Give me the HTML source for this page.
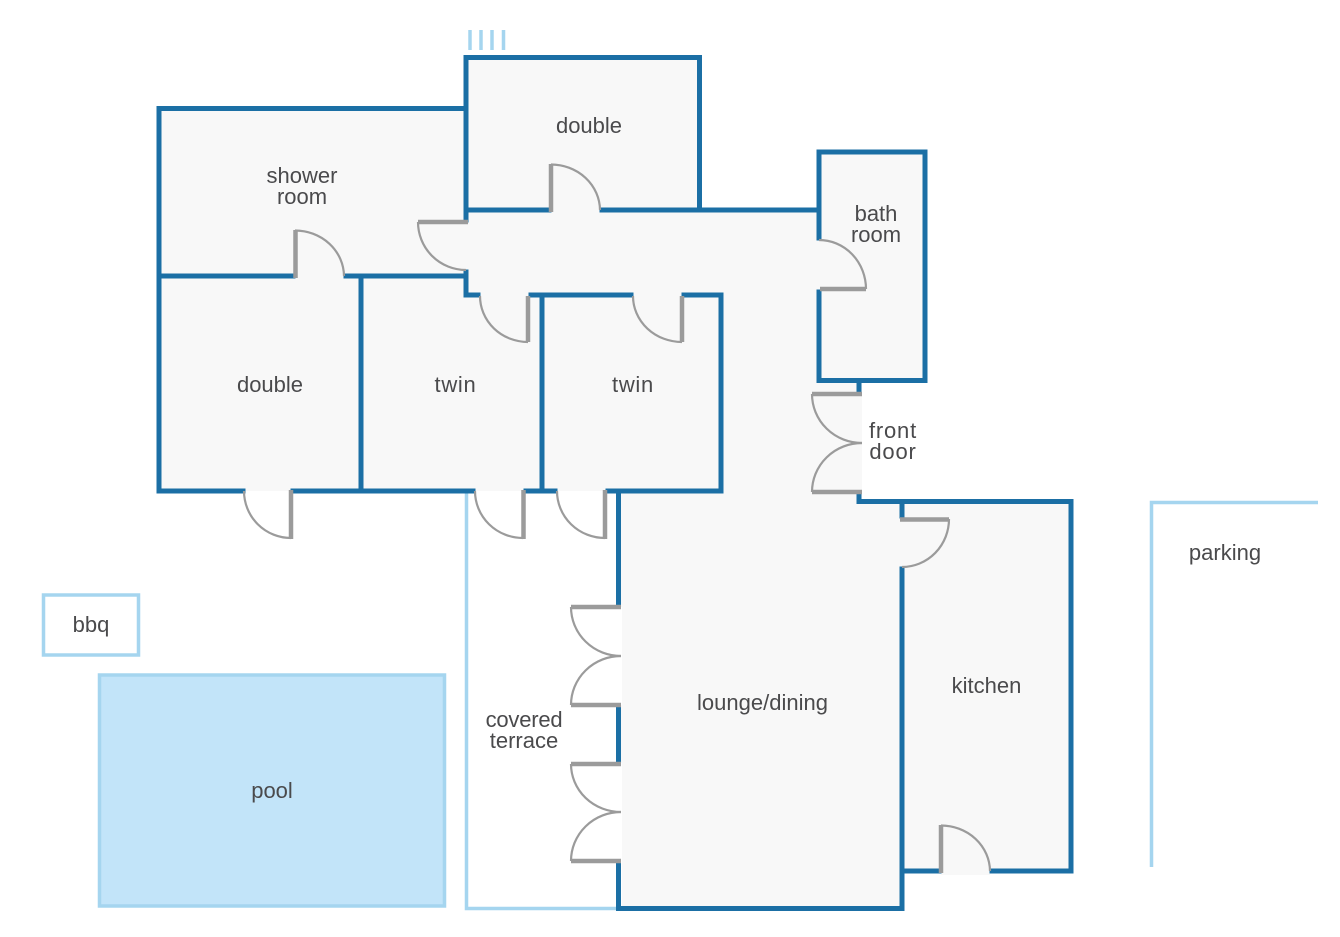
<!DOCTYPE html>
<html>
<head>
<meta charset="utf-8">
<style>
html,body{margin:0;padding:0;background:#fff;}
svg{display:block;}
text{font-family:"Liberation Sans",sans-serif;font-size:22px;fill:#4a4a4c;text-anchor:middle;}
.w{fill:none;stroke:#1b6fa5;stroke-width:5;stroke-linecap:square;stroke-linejoin:miter;}
.l{fill:none;stroke:#a5d5ef;stroke-width:3.5;stroke-linecap:butt;}
.leaf{fill:none;stroke:#9b9b9b;stroke-width:4.5;stroke-linecap:butt;}
.arc{fill:none;stroke:#9b9b9b;stroke-width:2.2;}
</style>
</head>
<body>
<svg width="1340" height="937" viewBox="0 0 1340 937" xmlns="http://www.w3.org/2000/svg">
<rect width="1340" height="937" fill="#fff"/>
<!-- interior floor -->
<path d="M159 108H466V57H700V210H820V152H925V380H862V501H1071V871H990V875H941V871H903V908H622V491H159Z" fill="#f8f8f8"/>
<rect x="618" y="491" width="6" height="116" fill="#f8f8f8"/>
<rect x="618" y="705" width="6" height="58" fill="#f8f8f8"/>
<!-- light outlines -->
<path class="l" d="M466.500 491V908.500H618"/>
<rect x="43.500" y="595" width="95" height="60" fill="none" stroke="#a5d5ef" stroke-width="3.500"/>
<rect x="99.500" y="675" width="345" height="231" fill="#c2e4f9" stroke="#a5d5ef" stroke-width="3.500"/>
<path class="l" d="M1151.500 867V502.500H1318"/>
<path class="l" d="M470 30V50M481 30V50M492 30V50M503.500 30V50"/>
<!-- walls -->
<g class="w">
<path d="M466 220V57.500H699.500V210"/>
<path d="M467 210H549M602 210H817"/>
<path d="M466 108.500H159V491H243"/>
<path d="M159 276H293M346 276H464"/>
<path d="M361 276V491"/>
<path d="M293 491H473M526 491H555M608 491H721V295H684"/>
<path d="M631 295H531M478 295H466V272"/>
<path d="M542 295V491"/>
<path d="M819 238V152H925V380.500H819V292"/>
<path d="M859 381V392"/>
<path d="M859 495V501.500H1071V871H992"/>
<path d="M902 502V516M902 569V908.500H618.500V863"/>
<path d="M905 871H939"/>
<path d="M618.500 491V605M618.500 707V761"/>
</g>
<!-- doors -->
<g>
<path class="leaf" d="M295.500 278V230"/><path class="arc" d="M295 230.500A49 46 0 0 1 344 276"/>
<path class="leaf" d="M551 212V164"/><path class="arc" d="M551 164.500A49 46 0 0 1 600 210"/>
<path class="leaf" d="M468 222H418"/><path class="arc" d="M418 222A48 48 0 0 0 466 270"/>
<path class="leaf" d="M528 296V342"/><path class="arc" d="M480 296A48 46 0 0 0 528 342"/>
<path class="leaf" d="M682 296V342"/><path class="arc" d="M633 296A49 46 0 0 0 682 342"/>
<path class="leaf" d="M820 289H866"/><path class="arc" d="M819 240A47 49 0 0 1 866 289"/>
<path class="leaf" d="M862 394H812"/><path class="arc" d="M812 394A50 49 0 0 0 862 443"/>
<path class="leaf" d="M862 492H812"/><path class="arc" d="M812 492A50 49 0 0 1 862 443"/>
<path class="leaf" d="M900 519.500H949"/><path class="arc" d="M949 519A47 48 0 0 1 902 567"/>
<path class="leaf" d="M941 873V825"/><path class="arc" d="M941 825.500A49 46 0 0 1 990 871"/>
<path class="leaf" d="M291 490V539"/><path class="arc" d="M244 491A47 47 0 0 0 291 538"/>
<path class="leaf" d="M523.500 490V539"/><path class="arc" d="M475 491A48 47 0 0 0 523 538"/>
<path class="leaf" d="M605 490V539"/><path class="arc" d="M557 491A48 47 0 0 0 605 538"/>
<path class="leaf" d="M621 607H571"/><path class="arc" d="M571 607A50 49 0 0 0 621 656"/>
<path class="leaf" d="M621 705H571"/><path class="arc" d="M571 705A50 49 0 0 1 621 656"/>
<path class="leaf" d="M621 764H571"/><path class="arc" d="M571 764A50 48 0 0 0 621 812"/>
<path class="leaf" d="M621 861H571"/><path class="arc" d="M571 861A50 49 0 0 1 621 812"/>
</g>
<!-- labels -->
<text x="589" y="133">double</text>
<text x="302" y="183">shower</text>
<text x="302" y="204">room</text>
<text x="876" y="221">bath</text>
<text x="876" y="242">room</text>
<text x="270" y="392">double</text>
<text x="455.500" y="392" letter-spacing="0.7">twin</text>
<text x="633" y="392" letter-spacing="0.7">twin</text>
<text x="893" y="438" letter-spacing="0.8">front</text>
<text x="893" y="459" letter-spacing="0.8">door</text>
<text x="1225" y="560">parking</text>
<text x="91" y="632">bbq</text>
<text x="986.500" y="693">kitchen</text>
<text x="762.500" y="710">lounge/dining</text>
<text x="524" y="727" letter-spacing="-0.2">covered</text>
<text x="524" y="748">terrace</text>
<text x="272" y="798">pool</text>
</svg>
</body>
</html>
